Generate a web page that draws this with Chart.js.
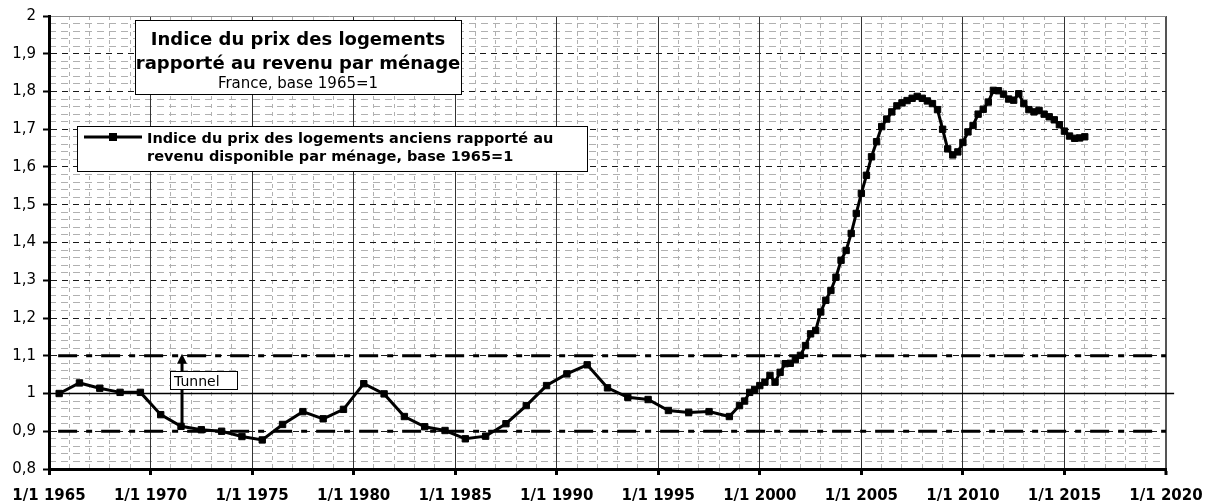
<!DOCTYPE html>
<html>
<head>
<meta charset="utf-8">
<script src="https://cdn.jsdelivr.net/npm/chart.js@4.4.1/dist/chart.umd.min.js"></script>
<style>
  html, body { margin: 0; padding: 0; background: #fff; }
</style>
</head>
<body>
<canvas id="house-canvas" width="1205" height="502"></canvas>
<script>
// annual points (mid-year), 1965-1998
var annualYears = [1965, 1966, 1967, 1968, 1969, 1970, 1971, 1972, 1973, 1974,
  1975, 1976, 1977, 1978, 1979, 1980, 1981, 1982, 1983, 1984,
  1985, 1986, 1987, 1988, 1989, 1990, 1991, 1992, 1993, 1994,
  1995, 1996, 1997, 1998];
var annualValues = [1.000, 1.028, 1.014, 1.003, 1.003, 0.944, 0.913, 0.904, 0.900, 0.886,
  0.877, 0.918, 0.952, 0.933, 0.958, 1.026, 0.999, 0.939, 0.912, 0.902,
  0.880, 0.887, 0.920, 0.968, 1.021, 1.052, 1.076, 1.015, 0.990, 0.984,
  0.955, 0.950, 0.952, 0.939];

// quarterly points, from 1999 T1 to 2016 T1
var quarterStart = 1999;
var quarterlyValues = [
  0.968, 0.980, 1.003, 1.011,
  1.021, 1.030, 1.048, 1.030,
  1.056, 1.079, 1.080, 1.090,
  1.101, 1.127, 1.158, 1.167,
  1.216, 1.247, 1.273, 1.308,
  1.353, 1.379, 1.424, 1.477,
  1.530, 1.578, 1.627, 1.667,
  1.707, 1.727, 1.746, 1.762,
  1.770, 1.776, 1.782, 1.787,
  1.782, 1.775, 1.768, 1.752,
  1.700, 1.648, 1.632, 1.640,
  1.665, 1.693, 1.710, 1.740,
  1.753, 1.772, 1.803, 1.802,
  1.793, 1.780, 1.777, 1.794,
  1.768, 1.752, 1.746, 1.750,
  1.740, 1.733, 1.725, 1.712,
  1.695, 1.682, 1.676, 1.677,
  1.680];

var tickYears = [1965, 1970, 1975, 1980, 1985, 1990, 1995, 2000, 2005, 2010, 2015, 2020];
var xTickLabels = ["1/1 1965", "1/1 1970", "1/1 1975", "1/1 1980", "1/1 1985", "1/1 1990",
  "1/1 1995", "1/1 2000", "1/1 2005", "1/1 2010", "1/1 2015", "1/1 2020"];
var yTickValues = [0.8, 0.9, 1, 1.1, 1.2, 1.3, 1.4, 1.5, 1.6, 1.7, 1.8, 1.9, 2];
var yTickLabels = ["0,8", "0,9", "1", "1,1", "1,2", "1,3", "1,4", "1,5", "1,6", "1,7", "1,8", "1,9", "2"];

var baseLevel = 1;
var tunnelLow = 0.9;
var tunnelHigh = 1.1;

var titleLines = ["Indice du prix des logements", "rapporté au revenu par ménage", "France, base 1965=1"];
var legendLines = ["Indice du prix des logements anciens rapporté au", "revenu disponible par ménage, base 1965=1"];
var tunnelText = "Tunnel";
var arrowYear = 1971.55;
var arrowFrom = 0.912;

var seriesPoints = [];
annualYears.forEach(function (yr, i) {
  seriesPoints.push({ x: yr + 0.5, y: annualValues[i] });
});
quarterlyValues.forEach(function (v, i) {
  seriesPoints.push({ x: quarterStart + i / 4, y: v });
});

var minorYears = [];
for (var yr = 1965; yr <= 2020; yr++) minorYears.push(yr);
var minorY = [];
for (var k = 0; k <= 60; k++) minorY.push(Math.round((0.8 + k * 0.02) * 100) / 100);

function isFive(v) { return Math.abs(v % 5) < 1e-6; }
function isTenth(v) { return Math.abs(Math.round(v * 10) - v * 10) < 1e-6; }

var boxesPlugin = {
  id: "boxes",
  afterDatasetsDraw: function (chart) {
    var ctx = chart.ctx;
    var xs = chart.scales.x, ys = chart.scales.y;
    ctx.save();

    // tunnel arrow
    var ax = xs.getPixelForValue(arrowYear);
    var yb = ys.getPixelForValue(arrowFrom);
    var yt = ys.getPixelForValue(tunnelHigh) - 2;
    ctx.strokeStyle = "#000";
    ctx.fillStyle = "#000";
    ctx.lineWidth = 3;
    ctx.beginPath();
    ctx.moveTo(ax, yb);
    ctx.lineTo(ax, yt + 8);
    ctx.stroke();
    ctx.beginPath();
    ctx.moveTo(ax, yt);
    ctx.lineTo(ax - 5, yt + 10);
    ctx.lineTo(ax + 5, yt + 10);
    ctx.closePath();
    ctx.fill();

    // Tunnel label
    ctx.fillStyle = "#fff";
    ctx.fillRect(170, 371, 68, 19);
    ctx.lineWidth = 1;
    ctx.strokeStyle = "#000";
    ctx.strokeRect(170.5, 371.5, 67, 18);
    ctx.fillStyle = "#000";
    ctx.font = "14px 'DejaVu Sans'";
    ctx.textAlign = "left";
    ctx.textBaseline = "alphabetic";
    ctx.fillText(tunnelText, 174, 386);

    // title box
    ctx.fillStyle = "#fff";
    ctx.fillRect(135, 20, 327, 75);
    ctx.strokeStyle = "#000";
    ctx.strokeRect(135.5, 20.5, 326, 74);
    ctx.fillStyle = "#000";
    ctx.textAlign = "center";
    ctx.font = "bold 18px 'DejaVu Sans'";
    ctx.fillText(titleLines[0], 298, 45);
    ctx.fillText(titleLines[1], 298, 69);
    ctx.font = "15px 'DejaVu Sans'";
    ctx.fillText(titleLines[2], 298, 88);

    // legend box
    ctx.fillStyle = "#fff";
    ctx.fillRect(77, 126, 511, 46);
    ctx.strokeRect(77.5, 126.5, 510, 45);
    ctx.lineWidth = 3;
    ctx.beginPath();
    ctx.moveTo(84, 137);
    ctx.lineTo(142, 137);
    ctx.stroke();
    ctx.fillStyle = "#000";
    ctx.fillRect(109, 133, 8, 8);
    ctx.textAlign = "left";
    ctx.font = "bold 14.5px 'DejaVu Sans'";
    ctx.fillText(legendLines[0], 147, 143);
    ctx.fillText(legendLines[1], 147, 161);

    ctx.restore();
  }
};

var chartFont = "'DejaVu Sans'";

new Chart(document.getElementById("house-canvas"), {
  type: "line",
  data: {
    datasets: [
      {
        label: legendLines.join(" "),
        data: seriesPoints,
        borderColor: "#000",
        backgroundColor: "#000",
        borderWidth: 3,
        tension: 0,
        fill: false,
        pointStyle: "rect",
        pointRadius: 4.5,
        pointBorderWidth: 1,
        pointBackgroundColor: "#000",
        pointBorderColor: "#000"
      },
      {
        label: "base",
        data: [{ x: 1965, y: baseLevel }, { x: 2020.4, y: baseLevel }],
        borderColor: "#000",
        borderWidth: 1.5,
        pointRadius: 0,
        fill: false,
        clip: false
      },
      {
        label: "haut",
        data: [{ x: 1965.45, y: tunnelHigh }, { x: 2020, y: tunnelHigh }],
        borderColor: "#000",
        borderWidth: 3,
        borderDash: [19, 9, 6, 9],
        borderCapStyle: "butt",
        pointRadius: 0,
        fill: false
      },
      {
        label: "bas",
        data: [{ x: 1965.45, y: tunnelLow }, { x: 2020, y: tunnelLow }],
        borderColor: "#000",
        borderWidth: 3,
        borderDash: [19, 9, 6, 9],
        borderCapStyle: "butt",
        pointRadius: 0,
        fill: false
      }
    ]
  },
  options: {
    responsive: false,
    animation: false,
    events: [],
    layout: { padding: { top: 16, right: 39, left: 0, bottom: 0 } },
    plugins: {
      legend: { display: false },
      tooltip: { enabled: false }
    },
    scales: {
      xMinor: {
        type: "linear",
        position: "bottom",
        min: 1965,
        max: 2020,
        afterBuildTicks: function (s) { s.ticks = minorYears.map(function (v) { return { value: v }; }); },
        afterFit: function (s) { s.height = 0; s.paddingLeft = 0; s.paddingRight = 0; },
        ticks: { display: false },
        grid: {
          color: function (c) { return c.tick && isFive(c.tick.value) ? "rgba(0,0,0,0)" : "#b0b0b0"; },
          lineWidth: 1,
          drawTicks: false,
          z: -2
        },
        border: { display: false, dash: [4, 4] }
      },
      yMinor: {
        type: "linear",
        position: "left",
        min: 0.8,
        max: 2,
        afterBuildTicks: function (s) { s.ticks = minorY.map(function (v) { return { value: v }; }); },
        afterFit: function (s) { s.width = 0; s.paddingTop = 0; s.paddingBottom = 0; },
        ticks: { display: false },
        grid: {
          color: function (c) { return c.tick && isTenth(c.tick.value) ? "rgba(0,0,0,0)" : "#b0b0b0"; },
          lineWidth: 1,
          drawTicks: false,
          z: -2
        },
        border: { display: false, dash: [7, 5] }
      },
      x: {
        type: "linear",
        position: "bottom",
        min: 1965,
        max: 2020,
        afterBuildTicks: function (s) { s.ticks = tickYears.map(function (v) { return { value: v }; }); },
        afterFit: function (s) { s.height = 33; s.paddingLeft = 0; s.paddingRight = 0; },
        ticks: {
          autoSkip: false,
          maxRotation: 0,
          padding: 12,
          color: "#000",
          font: { family: chartFont, size: 15, weight: "bold" },
          callback: function (v, i) { return xTickLabels[i]; }
        },
        grid: {
          color: function (c) { return c.tick && c.tick.value === 2020 ? "#555" : "#333"; },
          lineWidth: function (c) { return c.tick && c.tick.value === 2020 ? 2 : 1; },
          tickColor: "#000",
          tickLength: 6,
          tickWidth: 3,
          z: -1
        },
        border: { color: "#000", width: 3 }
      },
      y: {
        type: "linear",
        position: "left",
        min: 0.8,
        max: 2,
        afterBuildTicks: function (s) { s.ticks = yTickValues.map(function (v) { return { value: v }; }); },
        afterFit: function (s) { s.width = 49; s.paddingTop = 0; s.paddingBottom = 0; },
        ticks: {
          padding: 7,
          color: "#000",
          font: { family: chartFont, size: 15 },
          callback: function (v, i) { return yTickLabels[i]; }
        },
        grid: {
          color: function (c) { return c.tick && c.tick.value === 2 ? "#8a8a8a" : "#1a1a1a"; },
          lineWidth: 1,
          tickColor: "#000",
          tickLength: 6,
          tickWidth: 2,
          z: -1
        },
        border: {
          color: "#000",
          width: 3,
          dash: function (c) { return c.tick && c.tick.value !== 2 ? [6, 5] : []; }
        }
      }
    }
  },
  plugins: [boxesPlugin]
});
</script>
</body>
</html>
